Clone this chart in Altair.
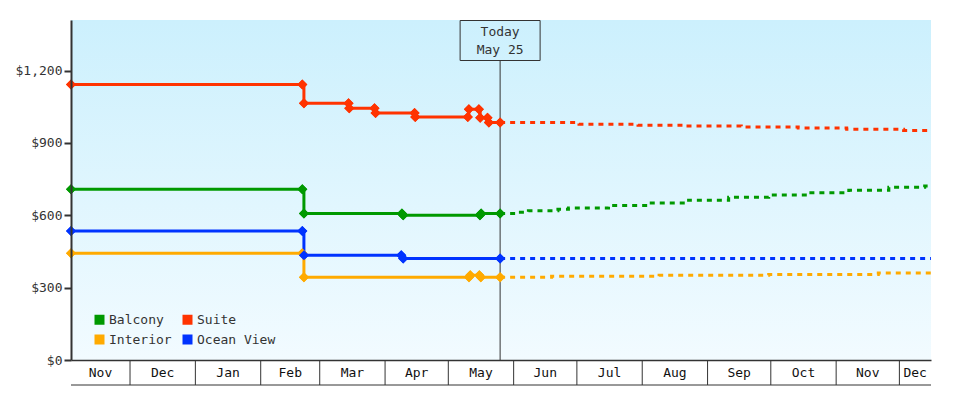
import altair as alt
import pandas as pd

FONT = "DejaVu Sans Mono"
INK = "#333333"

series = ["Balcony", "Suite", "Interior", "Ocean View"]
colors = ["#009900", "#ff3300", "#ffaa00", "#0033ff"]

range_start = "2022-11-03T00:00"
range_end = "2023-12-16T00:00"
today = "2023-05-25T14:00"
y_max = 1410
y_ticks = [0, 300, 600, 900, 1200]

month_starts = ["2022-11-01", "2022-12-01", "2023-01-01", "2023-02-01", "2023-03-01",
                "2023-04-01", "2023-05-01", "2023-06-01", "2023-07-01", "2023-08-01",
                "2023-09-01", "2023-10-01", "2023-11-01", "2023-12-01"]
month_names = ["Nov", "Dec", "Jan", "Feb", "Mar", "Apr", "May",
               "Jun", "Jul", "Aug", "Sep", "Oct", "Nov", "Dec"]

# fares seen so far: each change gives two points (old fare, new fare)
balcony_dates = ["2022-11-03T00:00", "2023-02-20T18:00", "2023-02-21T12:00", "2023-04-09T00:00",
                 "2023-04-09T14:00", "2023-05-16T00:00", "2023-05-16T14:00", today]
balcony_prices = [708, 708, 608, 608, 600, 600, 608, 608]

suite_dates = ["2022-11-03T00:00", "2023-02-20T18:00", "2023-02-21T12:00", "2023-03-14T16:00",
               "2023-03-15T00:00", "2023-03-27T00:00", "2023-03-27T12:00", "2023-04-15T00:00",
               "2023-04-15T08:00", "2023-05-10T06:00", "2023-05-10T18:00", "2023-05-15T12:00",
               "2023-05-16T03:00", "2023-05-19T14:00", "2023-05-20T06:00", today]
suite_prices = [1143, 1143, 1065, 1065, 1044, 1044, 1024, 1024,
                1008, 1008, 1040, 1040, 1005, 1005, 985, 985]

interior_dates = ["2022-11-03T00:00", "2023-02-20T18:00", "2023-02-21T12:00", "2023-05-10T20:00",
                  "2023-05-11T10:00", "2023-05-15T18:00", "2023-05-16T10:00", today]
interior_prices = [443, 443, 343, 343, 351, 351, 343, 343]

ocean_dates = ["2022-11-03T00:00", "2023-02-20T18:00", "2023-02-21T12:00",
               "2023-04-08T16:00", "2023-04-09T14:00", today]
ocean_prices = [535, 535, 434, 434, 421, 421]

# predicted fares from today on
balcony_fc_dates = [today, "2023-06-03T00:00", "2023-06-08T00:00", "2023-06-22T00:00",
                    "2023-06-27T00:00", "2023-07-16T00:00", "2023-08-04T00:00", "2023-08-23T00:00",
                    "2023-09-11T00:00", "2023-09-30T00:00", "2023-10-19T00:00", "2023-11-07T00:00",
                    "2023-11-26T00:00", "2023-12-13T00:00", range_end]
balcony_fc_prices = [608, 613, 619, 625, 630, 641, 651, 663, 675, 684, 694, 704, 716, 722, 722]

suite_fc_dates = [today, "2023-07-02T00:00", "2023-07-30T00:00", "2023-08-22T00:00",
                  "2023-09-17T00:00", "2023-10-14T00:00", "2023-11-06T00:00",
                  "2023-12-03T00:00", range_end]
suite_fc_prices = [985, 978, 974, 970, 966, 962, 957, 952, 952]

interior_fc_dates = [today, "2023-06-19T00:00", "2023-08-09T00:00", "2023-09-30T00:00",
                     "2023-11-21T00:00", range_end]
interior_fc_prices = [343, 347, 351, 355, 361, 361]

ocean_fc_dates = [today, range_end]
ocean_fc_prices = [421, 421]


def frame(name, dates, prices):
    return pd.DataFrame({"cabin": name, "date": dates, "price": prices})


history = pd.concat([
    frame("Interior", interior_dates, interior_prices),
    frame("Ocean View", ocean_dates, ocean_prices),
    frame("Balcony", balcony_dates, balcony_prices),
    frame("Suite", suite_dates, suite_prices),
])
forecast = pd.concat([
    frame("Interior", interior_fc_dates, interior_fc_prices),
    frame("Ocean View", ocean_fc_dates, ocean_fc_prices),
    frame("Balcony", balcony_fc_dates, balcony_fc_prices),
    frame("Suite", suite_fc_dates, suite_fc_prices),
])

# month bands below the axis, clipped to the visible range
t0, t1 = pd.Timestamp(range_start), pd.Timestamp(range_end)
starts = pd.to_datetime(month_starts)
ends = list(starts[1:]) + [starts[-1] + pd.offsets.MonthBegin(1)]
fmt = "%Y-%m-%dT%H:%M"
months = pd.DataFrame({
    "date": [(max(s, t0) + (min(e, t1) - max(s, t0)) / 2).strftime(fmt) for s, e in zip(starts, ends)],
    "label": month_names,
})
separators = pd.DataFrame({"date": [s.strftime(fmt) for s in starts if s > t0]})


def dt(s):
    t = pd.Timestamp(s)
    return alt.DateTime(year=t.year, month=t.month, date=t.day, hours=t.hour)


x_scale = alt.Scale(domain=[dt(range_start), dt(range_end)], nice=False)
y_scale = alt.Scale(domain=[0, y_max], nice=False)
x_axis = alt.Axis(title=None, labels=False, ticks=False, grid=False,
                  domainColor=INK, domainWidth=1.5, zindex=1)
y_axis = alt.Axis(title=None, values=y_ticks, format="$,.0f", grid=False,
                  domainColor=INK, domainWidth=2, tickColor=INK, tickWidth=2, tickSize=7,
                  labelFont=FONT, labelFontSize=13, labelColor=INK, labelPadding=2, zindex=1)
X = alt.X("date:T", scale=x_scale, axis=x_axis)
Y = alt.Y("price:Q", scale=y_scale, axis=y_axis)

bg = alt.Chart(pd.DataFrame({"date": [range_start], "date_end": [range_end],
                             "price": [0], "price_end": [y_max]})).mark_rect(
    fill=alt.Gradient(gradient="linear", x1=0, x2=0, y1=0, y2=1,
                      stops=[alt.GradientStop(color="#ccf0fd", offset=0),
                             alt.GradientStop(color="#f2fbff", offset=1)])
).encode(x=X, x2="date_end:T", y=Y, y2="price_end:Q")

today_df = pd.DataFrame({"date": [today]})
today_rule = alt.Chart(today_df).mark_rule(color=INK, strokeWidth=1).encode(
    x=X, y=alt.value(40.5), y2=alt.value(340))
today_box = alt.Chart(today_df).mark_rect(
    fillOpacity=0, stroke=INK, strokeWidth=1, xOffset=-40, x2Offset=40
).encode(x=X, x2="date:T", y=alt.value(0.5), y2=alt.value(40.5))
today_text = alt.Chart(today_df).mark_text(font=FONT, fontSize=13, color=INK,
                                           align="center", baseline="middle")
today_top = today_text.encode(x=X, y=alt.value(12), text=alt.value("Today"))
today_bot = today_text.encode(x=X, y=alt.value(30),
                              text=alt.value(pd.Timestamp(today).strftime("%b ") + str(pd.Timestamp(today).day)))

color_scale = alt.Scale(domain=series, range=colors)
legend = alt.Legend(title=None, orient="none", direction="horizontal", legendX=22, legendY=293,
                    columns=2, symbolType="square", symbolSize=100, symbolStrokeWidth=0,
                    labelFont=FONT, labelFontSize=13, labelColor=INK, labelOffset=3,
                    columnPadding=9, rowPadding=6)

hist_line = alt.Chart(history).mark_line(interpolate="step-after", strokeWidth=3).encode(
    x=X, y=Y, color=alt.Color("cabin:N", scale=color_scale, legend=None))
fc_line = alt.Chart(forecast).mark_line(interpolate="step-after", strokeWidth=3, strokeDash=[5, 5]).encode(
    x=X, y=Y, color=alt.Color("cabin:N", scale=color_scale, legend=None))
hist_pts = alt.Chart(history).mark_point(shape="diamond", filled=True, size=100, opacity=1).encode(
    x=X, y=Y, color=alt.Color("cabin:N", scale=color_scale, legend=legend))

sep = alt.Chart(separators).mark_rule(color=INK, strokeWidth=1).encode(
    x=X, y=alt.value(340), y2=alt.value(365))
bottom = alt.Chart(pd.DataFrame({"date": [range_start], "date_end": [range_end]})).mark_rule(
    color=INK, strokeWidth=1).encode(x=X, x2="date_end:T", y=alt.value(365))
month_text = alt.Chart(months).mark_text(font=FONT, fontSize=13, color="#111111",
                                         align="center", baseline="alphabetic").encode(
    x=X, y=alt.value(357), text="label:N")

chart = alt.layer(
    bg, today_rule, today_box, today_top, today_bot,
    hist_pts, hist_line, fc_line, hist_pts,
    sep, bottom, month_text,
).properties(
    width=860, height=340,
    autosize=alt.AutoSizeParams(type="none"),
    padding={"left": 63, "top": 12, "right": 41, "bottom": 26},
    background="white",
).configure_view(stroke=None)

chart.save("out.html", embed_options={"renderer": "svg", "actions": False})
